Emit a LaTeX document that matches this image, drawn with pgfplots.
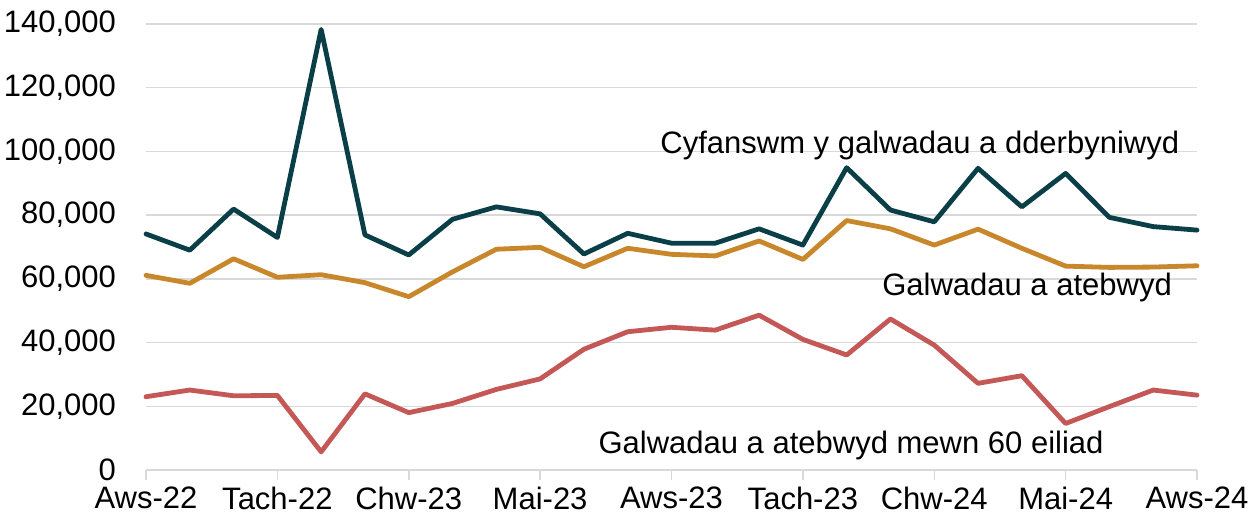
\documentclass[border=0pt]{standalone}
\usepackage{fontspec}
\setmainfont{Liberation Sans}
\usepackage{pgfplots}
\pgfplotsset{compat=1.18}

\definecolor{totalTeal}{HTML}{0B3F48}
\definecolor{answeredGold}{HTML}{C9872B}
\definecolor{fastRed}{HTML}{C45857}
\definecolor{gridGrey}{HTML}{D9D9D9}

% monthly values, Aws-22 (0) to Aws-24 (24)
\pgfplotstableread{
m total answered sixty
0  74100 61100 23000
1  69000 58600 25100
2  81900 66300 23300
3  73000 60500 23400
4  138300 61300 5700
5  73800 58800 23900
6  67500 54400 18000
7  78700 62200 20900
8  82600 69300 25300
9  80400 69900 28600
10 67800 63800 37900
11 74300 69600 43400
12 71200 67700 44800
13 71200 67200 43900
14 75700 71900 48600
15 70600 66100 41000
16 94900 78300 36100
17 81600 75700 47400
18 77900 70600 39200
19 94700 75600 27200
20 82600 69600 29600
21 93100 64000 14600
22 79300 63600 19900
23 76400 63700 25100
24 75300 64100 23500
}\calls

\begin{document}
\begin{tikzpicture}[font=\fontsize{15.5}{18}\selectfont]
  \path[use as bounding box] (-73pt,-25pt) rectangle (555.5pt,235pt);
  \begin{axis}[
    at={(0,0)}, anchor=south west,
    scale only axis,
    width=525.5pt, height=223pt,
    xmin=0, xmax=24,
    ymin=0, ymax=140000,
    axis x line=bottom,
    axis y line=left,
    x axis line style={-, draw=gridGrey, line width=0.75pt},
    y axis line style={draw=none},
    xtick={0,3,...,24},
    xticklabels={Aws-22,Tach-22,Chw-23,Mai-23,Aws-23,Tach-23,Chw-24,Mai-24,Aws-24},
    tick align=outside,
    x tick style={draw=gridGrey, line width=0.75pt},
    major tick length=5pt,
    ytick={0,20000,...,140000},
    y tick style={draw=none},
    scaled y ticks=false,
    yticklabel style={/pgf/number format/fixed, /pgf/number format/1000 sep={,},
      /pgf/number format/assume math mode=true, xshift=-6.5pt},
    ymajorgrids,
    major grid style={draw=gridGrey, line width=0.75pt},
    every axis plot/.append style={line width=2.4pt, line join=round, line cap=round},
    clip=false,
  ]
    \addplot[totalTeal] table[x=m, y=total] {\calls};
    \addplot[answeredGold] table[x=m, y=answered] {\calls};
    \addplot[fastRed] table[x=m, y=sixty] {\calls};

    \node[anchor=base] at (axis cs:17.67,99200) {Cyfanswm y galwadau a dderbyniwyd};
    \node[anchor=base] at (axis cs:20.12,54700) {Galwadau a atebwyd};
    \node[anchor=base] at (axis cs:16.1,5300) {Galwadau a atebwyd mewn 60 eiliad};
  \end{axis}
\end{tikzpicture}
\end{document}
